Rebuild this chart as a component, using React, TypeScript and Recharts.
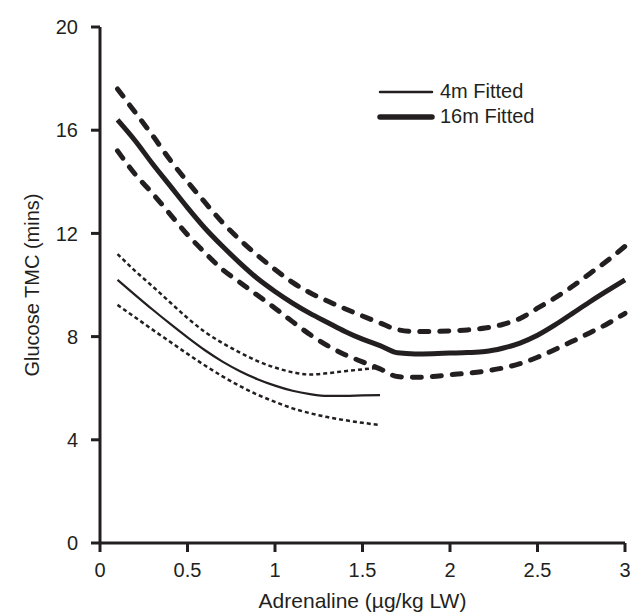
import React from 'react';
import { LineChart, Line, XAxis, YAxis, Label } from 'recharts';

const INK = '#231f20';
const FONT = '"Liberation Sans", Arial, sans-serif';
const FS = 20;

// adrenaline dose (µg/kg LW)
const doses = [0.1, 0.2, 0.3, 0.4, 0.5, 0.6, 0.7, 0.8, 0.9, 1.0, 1.1, 1.2, 1.3, 1.4, 1.5,
  1.6, 1.7, 1.8, 1.9, 2.0, 2.1, 2.2, 2.3, 2.4, 2.5, 2.6, 2.7, 2.8, 2.9, 3.0];

// 16 month fitted + bounds
const fit16 = [16.4, 15.6, 14.7, 13.85, 13.0, 12.2, 11.5, 10.85, 10.25, 9.75, 9.3, 8.9, 8.55, 8.2, 7.9,
  7.65, 7.37, 7.33, 7.34, 7.36, 7.38, 7.42, 7.55, 7.75, 8.05, 8.45, 8.9, 9.35, 9.78, 10.2];
const upper16 = [17.6, 16.7, 15.8, 14.85, 14.0, 13.2, 12.42, 11.75, 11.15, 10.6, 10.1, 9.7, 9.38, 9.08, 8.8,
  8.53, 8.27, 8.2, 8.2, 8.22, 8.26, 8.33, 8.47, 8.7, 9.1, 9.5, 9.95, 10.45, 10.95, 11.5];
const lower16 = [15.2, 14.3, 13.55, 12.75, 11.95, 11.25, 10.6, 10.1, 9.6, 9.1, 8.58, 8.08, 7.65, 7.3, 7.02,
  6.75, 6.45, 6.42, 6.45, 6.52, 6.58, 6.66, 6.78, 6.95, 7.2, 7.5, 7.82, 8.15, 8.5, 8.9];

// 4 month fitted + bounds (only up to 1.6)
const fit4 = [10.2, 9.62, 9.05, 8.5, 7.97, 7.47, 7.03, 6.66, 6.35, 6.1, 5.9, 5.77, 5.7, 5.7, 5.72, 5.73];
const upper4 = [11.2, 10.55, 9.95, 9.33, 8.72, 8.18, 7.75, 7.38, 7.05, 6.8, 6.62, 6.53, 6.58, 6.66, 6.73, 6.8];
const lower4 = [9.23, 8.75, 8.27, 7.8, 7.33, 6.88, 6.46, 6.08, 5.75, 5.47, 5.22, 5.03, 4.88, 4.76, 4.66, 4.57];

const xTicks = [0, 0.5, 1, 1.5, 2, 2.5, 3];
const yTicks = [0, 4, 8, 12, 16, 20];

const legendItems = ['4m Fitted', '16m Fitted'];
const legendWidths = [2.5, 5.5];

const data = doses.map((x, i) => ({
  x,
  fit16: fit16[i],
  upper16: upper16[i],
  lower16: lower16[i],
  fit4: fit4[i],
  upper4: upper4[i],
  lower4: lower4[i],
}));

export default function App() {
  const tick = { fill: INK, fontSize: FS, fontFamily: FONT };
  return (
    <div style={{ position: 'absolute', left: 0, top: 0, width: 632, height: 615, background: '#fff' }}>
      <LineChart width={632} height={615} data={data} margin={{ top: 27, right: 7, bottom: 0, left: 40 }}>
        <XAxis
          dataKey="x"
          type="number"
          domain={[0, 3]}
          ticks={xTicks}
          tick={tick}
          tickSize={9}
          tickMargin={11}
          stroke={INK}
          strokeWidth={3}
          tickLine={{ stroke: INK, strokeWidth: 3 }}
          height={72}
        >
          <Label value="Adrenaline (µg/kg LW)" position="insideBottom" offset={7}
            style={{ fill: INK, fontSize: 21, fontFamily: FONT }} />
        </XAxis>
        <YAxis
          type="number"
          domain={[0, 20]}
          ticks={yTicks}
          tick={tick}
          tickSize={9}
          tickMargin={13}
          stroke={INK}
          strokeWidth={3}
          tickLine={{ stroke: INK, strokeWidth: 3 }}
          width={60}
        >
          <Label value="Glucose TMC (mins)" angle={-90} position="insideLeft" offset={-8}
            style={{ fill: INK, fontSize: FS, fontFamily: FONT, textAnchor: 'middle' }} />
        </YAxis>
        <Line dataKey="upper16" type="monotone" stroke={INK} strokeWidth={5} strokeDasharray="9 11"
          strokeLinecap="round" dot={false} isAnimationActive={false} />
        <Line dataKey="fit16" type="monotone" stroke={INK} strokeWidth={5} dot={false} isAnimationActive={false} />
        <Line dataKey="lower16" type="monotone" stroke={INK} strokeWidth={5} strokeDasharray="9 11"
          strokeLinecap="round" dot={false} isAnimationActive={false} />
        <Line dataKey="upper4" type="monotone" stroke={INK} strokeWidth={2.5} strokeDasharray="4 3"
          dot={false} isAnimationActive={false} />
        <Line dataKey="fit4" type="monotone" stroke={INK} strokeWidth={2.2} dot={false} isAnimationActive={false} />
        <Line dataKey="lower4" type="monotone" stroke={INK} strokeWidth={2.5} strokeDasharray="4 3"
          dot={false} isAnimationActive={false} />
      </LineChart>
      <div style={{ position: 'absolute', left: 376, top: 79, fontFamily: FONT, fontSize: FS, color: INK, lineHeight: '25px' }}>
        {legendItems.map((label, i) => (
          <div key={label} style={{ display: 'flex', alignItems: 'center' }}>
            <svg width={60} height={12} style={{ marginRight: 4 }}>
              <line x1={4} y1={6} x2={56} y2={6} stroke={INK} strokeWidth={legendWidths[i]} strokeLinecap="round" />
            </svg>
            <span>{label}</span>
          </div>
        ))}
      </div>
    </div>
  );
}
